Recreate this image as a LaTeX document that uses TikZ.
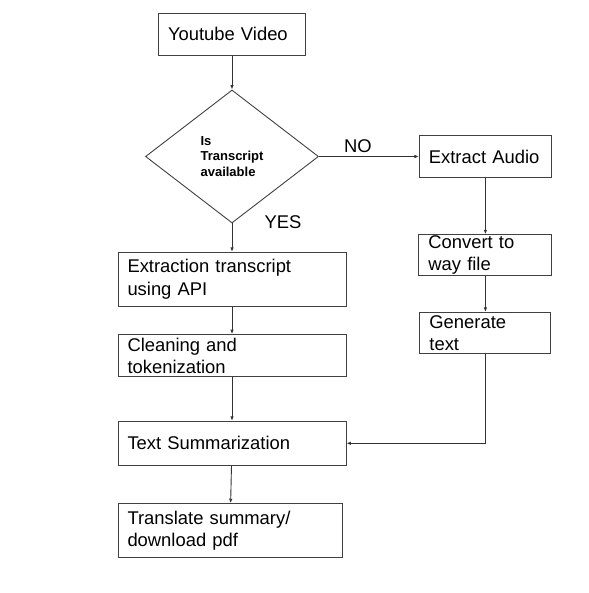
\documentclass[tikz,border=0pt]{standalone}
\usepackage{fontspec}
\setmainfont{Liberation Sans}
\usetikzlibrary{shapes.geometric, positioning, arrows.meta}

\begin{document}
\begin{tikzpicture}[
        process/.style={draw=black!75, line width=0.9pt, inner xsep=9.5pt, inner ysep=0pt, align=left, font=\fontsize{18.4}{22.3}\selectfont},
        decision/.style={diamond, draw=black!75, line width=0.9pt, inner sep=0pt, align=left, font=\bfseries\fontsize{13}{15.5}\selectfont, minimum width=173pt, minimum height=133pt},
        flow/.style={draw=black!80, line width=0.9pt, -{Latex[length=4.5pt,width=3.5pt]}},
        lbl/.style={font=\fontsize{18.4}{22.3}\selectfont}
    ]
        \useasboundingbox (0,0) rectangle (588pt,-593pt);

        % Draw the steps
        \node[process, text width=128pt, minimum height=42pt] (yt) at (232pt,-34.3pt) {Youtube Video};
        \node[decision, below=33.8pt of yt] (dia) {Is\\Transcript\\available};
        \node[process, text width=113pt, minimum height=42pt, right=100pt of dia] (ea) {Extract Audio};
        \node[process, text width=114pt, minimum height=41pt, below=56.4pt of ea] (cv) {Convert to\\way file};
        \node[process, text width=112pt, minimum height=41pt, below=35.7pt of cv] (gt) {Generate\\text};
        \node[process, text width=209pt, minimum height=54pt, below=28.4pt of dia] (ex) {Extraction transcript\\using API};
        \node[process, text width=209pt, minimum height=42pt, below=27.4pt of ex] (cl) {Cleaning and\\tokenization};
        \node[process, text width=209pt, minimum height=44pt, below=43.8pt of cl] (ts) {Text Summarization};
        \node[process, text width=205pt, minimum height=54pt, below=37.5pt of ts, xshift=-2pt] (tr) {Translate summary/\\download pdf};

        % Connect the steps with arrows
        \draw[flow] (yt) -- (dia);
        \draw[flow] (dia) -- node[lbl, above, pos=0.39] {NO} (ea);
        \draw[flow] (dia) -- node[lbl, at start, xshift=51pt, yshift=1pt] {YES} (ex);
        \draw[flow] (ea) -- (cv);
        \draw[flow] (cv) -- (gt);
        \draw[flow] (ex) -- (cl);
        \draw[flow] (cl) -- (ts);
        \draw[flow] (gt.south) |- (ts.east);
        \draw[flow] (ts) -- (tr);
    \end{tikzpicture}
\end{document}
